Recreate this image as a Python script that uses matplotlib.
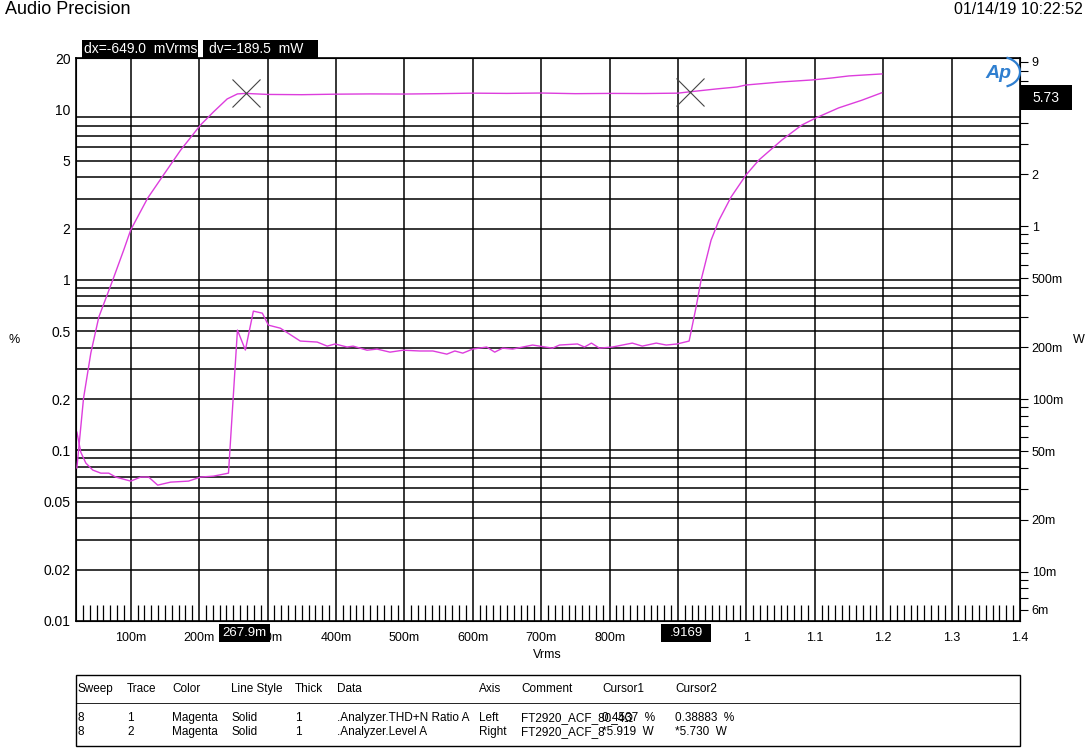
#!/usr/bin/env python3

import matplotlib
matplotlib.use("Agg")
import matplotlib.pyplot as plt
from matplotlib.patches import Rectangle, Arc
from matplotlib.ticker import FixedLocator, FixedFormatter, NullFormatter
import numpy as np

plt.rcParams['font.family'] = ['Liberation Sans', 'DejaVu Sans']

# trace 1: THD+N ratio (%), left axis
thd_v = [0.0213, 0.027, 0.0344, 0.0446, 0.0563, 0.0679, 0.0781, 0.100, 0.1146, 0.1262,
         0.1394, 0.1583, 0.1845, 0.202, 0.221, 0.2429, 0.256, 0.2676, 0.2793, 0.2924,
         0.3012, 0.3187, 0.3478, 0.3726, 0.3872, 0.3988, 0.4163, 0.4251, 0.4455, 0.4601,
         0.479, 0.498, 0.5227, 0.5417, 0.5621, 0.5738, 0.5854, 0.600, 0.6204, 0.6321,
         0.6437, 0.6583, 0.6875, 0.7166, 0.7268, 0.7531, 0.7633, 0.7735, 0.7851, 0.8041,
         0.8332, 0.8478, 0.8682, 0.8828, 0.8988, 0.9163, 0.9265, 0.9338, 0.9484, 0.960,
         0.9776, 0.9994, 1.0184, 1.0519, 1.081, 1.1015, 1.135, 1.1685, 1.1977]
thd_pct = [0.128, 0.0977, 0.0843, 0.0767, 0.0736, 0.0736, 0.0698, 0.0661, 0.0698, 0.0698,
           0.0626, 0.0652, 0.0661, 0.0698, 0.0707, 0.0736, 0.508, 0.388, 0.656, 0.638,
           0.543, 0.521, 0.438, 0.432, 0.409, 0.421, 0.404, 0.409, 0.387, 0.393,
           0.377, 0.387, 0.383, 0.383, 0.367, 0.383, 0.372, 0.393, 0.404, 0.377,
           0.398, 0.393, 0.415, 0.398, 0.415, 0.421, 0.404, 0.426, 0.398, 0.404,
           0.426, 0.409, 0.426, 0.415, 0.421, 0.438, 0.693, 0.998, 1.71, 2.24,
           3.06, 4.12, 5.05, 6.61, 8.09, 8.90, 10.2, 11.3, 12.5]

# trace 2: output level (W), right axis
lvl_v = [0.0213, 0.031, 0.0417, 0.0534, 0.0738, 0.0898, 0.100, 0.1248, 0.148, 0.173,
         0.202, 0.221, 0.241, 0.256, 0.268, 0.30, 0.35, 0.40, 0.45, 0.50,
         0.55, 0.60, 0.65, 0.70, 0.75, 0.80, 0.85, 0.90, 0.916, 0.9557,
         0.9863, 0.9994, 1.052, 1.096, 1.125, 1.150, 1.198]
lvl_w = [0.0399, 0.101, 0.185, 0.299, 0.490, 0.731, 0.955, 1.46, 1.99, 2.77,
         3.87, 4.61, 5.48, 5.86, 5.90, 5.82, 5.80, 5.84, 5.86, 5.85,
         5.88, 5.92, 5.90, 5.93, 5.88, 5.90, 5.89, 5.92, 6.02, 6.26,
         6.43, 6.60, 6.88, 7.06, 7.25, 7.45, 7.65]

cursor_v = [0.2679, 0.9169]

left_ticks = [20, 10, 5, 2, 1, 0.5, 0.2, 0.1, 0.05, 0.02, 0.01]
left_labels = ["20", "10", "5", "2", "1", "0.5", "0.2", "0.1", "0.05", "0.02", "0.01"]
right_labels = {9: "9", 5: "5", 2: "2", 1: "1", 0.5: "500m", 0.2: "200m", 0.1: "100m",
                0.05: "50m", 0.02: "20m", 0.01: "10m", 0.006: "6m"}
x_ticks = [0.1, 0.2, 0.3, 0.4, 0.5, 0.6, 0.7, 0.8, 0.9, 1.0, 1.1, 1.2, 1.3, 1.4]
x_labels = ["100m", "200m", "300m", "400m", "500m", "600m", "700m", "800m", "900m",
            "1", "1.1", "1.2", "1.3", "1.4"]

W, H = 1085, 755
MAG = '#dd3ddd'


def fx(x):
    return x / W


def fy(y):
    return 1 - y / H


def black_box(fig, x0, y0, x1, y1, text, size=10, pad=3, ha='left'):
    fig.add_artist(Rectangle((fx(x0), fy(y1)), fx(x1 - x0), (y1 - y0) / H,
                             transform=fig.transFigure, facecolor='black',
                             edgecolor='none', zorder=5))
    tx = x0 + pad if ha == 'left' else (x0 + x1) / 2
    fig.text(fx(tx), fy((y0 + y1) / 2), text, color='white', fontsize=size,
             ha=ha, va='center', zorder=6)


def _main():
    fig = plt.figure(figsize=(W / 100, H / 100), dpi=100)
    ax = fig.add_axes([fx(76), fy(621), fx(1020 - 76), (621 - 58) / H])
    ax.set_xlim(0.02, 1.4)
    ax.set_yscale('log')
    ax.set_ylim(0.01, 20)

    # grid: every 1..9 multiple on the left log scale, every 100m in x
    for dec in [0.01, 0.1, 1]:
        for k in range(1, 10):
            yv = dec * k
            if 0.01 < yv <= 10:
                ax.axhline(yv, color='black', lw=1.1, zorder=1)
    for xv in x_ticks[:-1]:
        ax.axvline(xv, color='black', lw=1.1, zorder=1)

    ax.set_yticks(left_ticks)
    ax.set_yticklabels(left_labels)
    ax.yaxis.set_minor_formatter(NullFormatter())
    ax.tick_params(axis='y', which='both', length=0, pad=4, labelsize=10)
    ax.set_xticks(x_ticks)
    ax.set_xticklabels(x_labels)
    ax.xaxis.set_minor_locator(FixedLocator(np.round(np.arange(0.03, 1.40, 0.01), 3)))
    ax.tick_params(axis='x', which='major', length=0, pad=8, labelsize=9)
    ax.tick_params(axis='x', which='minor', direction='in', length=11.5, width=0.9)
    for s in ax.spines.values():
        s.set_linewidth(1.2)

    ax.plot(thd_v, thd_pct, color=MAG, lw=1.0, zorder=3)

    ax2 = ax.twinx()
    ax2.set_yscale('log')
    ax2.set_ylim(10 ** -2.286, 10 ** 0.976)
    rticks = []
    rlabs = []
    for dec in [0.001, 0.01, 0.1, 1]:
        for k in range(1, 10):
            yv = round(dec * k, 4)
            if 0.0055 < yv < 9.4:
                rticks.append(yv)
                rlabs.append(right_labels.get(yv, ""))
    ax2.yaxis.set_major_locator(FixedLocator(rticks))
    ax2.yaxis.set_major_formatter(FixedFormatter(rlabs))
    ax2.yaxis.set_minor_locator(FixedLocator([]))
    ax2.tick_params(axis='y', which='major', direction='out', length=5.5, width=0.8,
                    pad=3, labelsize=9)
    ax2.plot(lvl_v, lvl_w, color=MAG, lw=1.0, zorder=3)

    # cursor marks on the level trace
    cur_w = np.interp(cursor_v, lvl_v, lvl_w)
    ax2.plot(cursor_v, cur_w, linestyle='none', marker='x', markersize=20,
             markeredgewidth=0.8, color='#444444', zorder=4)

    # axis unit labels
    fig.text(fx(14), fy(340), "%", fontsize=9, ha='center', va='center')
    fig.text(fx(1079), fy(340), "W", fontsize=9, ha='center', va='center')
    fig.text(fx(547), fy(655), "Vrms", fontsize=9, ha='center', va='center')

    # header
    fig.text(fx(5), fy(10), "Audio Precision", fontsize=13, ha='left', va='center')
    fig.text(fx(1083), fy(10), "01/14/19 10:22:52", fontsize=11.5, ha='right', va='center')

    # cursor readouts
    black_box(fig, 82, 40, 198, 58, "dx=-649.0  mVrms", size=10, pad=2)
    black_box(fig, 203, 40, 318, 58, "dv=-189.5  mW", size=10, pad=6)
    black_box(fig, 219, 624, 270, 642, "267.9m", size=9.5, ha='center')
    black_box(fig, 661, 624, 711, 642, ".9169", size=9.5, ha='center')
    black_box(fig, 1020, 85, 1072, 110, "5.73", size=10, ha='center')

    # AP logo
    fig.text(fx(998), fy(73), "Ap", fontsize=14, fontstyle='italic', fontweight='bold',
             color='#2f7fd0', ha='center', va='center', zorder=6)
    fig.add_artist(Arc((fx(1001), fy(72)), fx(38), 30 / H, theta1=-75, theta2=75,
                       transform=fig.transFigure, color='#2f7fd0', lw=1.6))

    # legend table
    fig.add_artist(Rectangle((fx(76), fy(746)), fx(1020 - 76), (746 - 675) / H,
                             transform=fig.transFigure, facecolor='none',
                             edgecolor='black', lw=1.0))
    fig.add_artist(plt.Line2D([fx(76), fx(1020)], [fy(703), fy(703)],
                              transform=fig.transFigure, color='black', lw=0.6))
    cols = [77, 127, 172, 231, 295, 337, 479, 521, 602, 675]
    header = ["Sweep", "Trace", "Color", "Line Style", "Thick", "Data", "Axis",
              "Comment", "Cursor1", "Cursor2"]
    rows = [["8", "1", "Magenta", "Solid", "1", ".Analyzer.THD+N Ratio A", "Left",
             "FT2920_ACF_80_4Ω", "0.4537  %", "0.38883  %"],
            ["8", "2", "Magenta", "Solid", "1", ".Analyzer.Level A", "Right",
             "FT2920_ACF_8", "*5.919  W", "*5.730  W"]]
    for cx, h in zip(cols, header):
        fig.text(fx(cx), fy(689), h, fontsize=8.5, ha='left', va='center')
    for ry, row in zip([718, 732], rows):
        for cx, val in zip(cols, row):
            fig.text(fx(cx), fy(ry), val, fontsize=8.5, ha='left', va='center')

    fig.savefig("out.png", dpi=100)
    print("Figure saved as out.png")


if __name__ == '__main__':
    _main()
